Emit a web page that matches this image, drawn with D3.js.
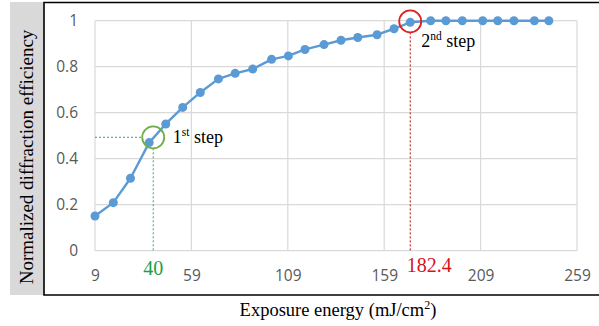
<!DOCTYPE html>
<html>
<head>
<meta charset="utf-8">
<script src="https://cdn.jsdelivr.net/npm/d3@7"></script>
<style>
  html, body { margin: 0; padding: 0; background: #fff; }
  svg { display: block; }
</style>
</head>
<body>
<svg id="chart" width="599" height="326"></svg>
<script>
// ---- data ----
const exposure = [9.0, 18.5, 27.4, 37.1, 45.7, 54.5, 63.6, 73.0, 81.7, 90.8, 100.6, 109.3, 117.9,
  127.8, 136.6, 145.3, 155.3, 164.1, 172.5, 183.1, 191.0, 199.5, 210.1, 217.9, 226.3, 236.9, 244.4];
const efficiency = [0.151, 0.209, 0.315, 0.470, 0.551, 0.623, 0.688, 0.747, 0.771, 0.790, 0.832, 0.847, 0.875,
  0.896, 0.915, 0.927, 0.939, 0.965, 0.993, 1.0, 1.0, 1.0, 1.0, 1.0, 1.0, 1.0, 1.0];
const xTicks = [9, 59, 109, 159, 209, 259];
const yTicks = [0, 0.2, 0.4, 0.6, 0.8, 1];
const step1 = { x: 39.2, y: 0.493, label: "40", labelX: 40 };
const step2 = { x: 172.5, y: 0.997, label: "182.4", labelX: 182.4 };

const svg = d3.select("#chart");
const L = 95, R = 577, T = 20.7, B = 250.7;
const x = d3.scaleLinear().domain([9, 259]).range([L, R]);
const y = d3.scaleLinear().domain([0, 1]).range([B, T]);

// gray band for y title
svg.append("rect").attr("x", 10).attr("y", 2).attr("width", 34).attr("height", 293).attr("fill", "#d9d9d9");

// frame
const frame = svg.append("g").attr("stroke", "#000").attr("stroke-width", 1.6).attr("fill", "none");
frame.append("path").attr("d", "M599,2.5 H44 V295 H599");

// gridlines
const grid = svg.append("g").attr("stroke", "#d9d9d9").attr("stroke-width", 1.2);
grid.selectAll(".hg").data(yTicks).join("line")
  .attr("x1", L).attr("x2", R).attr("y1", d => y(d)).attr("y2", d => y(d));
grid.selectAll(".vg").data(xTicks).join("line")
  .attr("x1", d => x(d)).attr("x2", d => x(d)).attr("y1", T).attr("y2", B);

// axes (labels only)
const xAxis = svg.append("g").attr("transform", `translate(0,${B})`)
  .call(d3.axisBottom(x).tickValues(xTicks).tickSize(0).tickPadding(19).tickFormat(d3.format("d")));
const yAxis = svg.append("g").attr("transform", `translate(${L},0)`)
  .call(d3.axisLeft(y).tickValues(yTicks).tickSize(0).tickPadding(17).tickFormat(d => d === 0 ? "0" : d === 1 ? "1" : d3.format(".1f")(d)));
[xAxis, yAxis].forEach(a => {
  a.select(".domain").remove();
  a.selectAll("text").attr("fill", "#595959").style("font-family", "'Open Sans', sans-serif").style("font-size", "15.5px");
});

// annotation dashed lines
const r = 11;
svg.append("line").attr("x1", x(9)).attr("x2", x(step1.x) - r).attr("y1", y(step1.y)).attr("y2", y(step1.y))
  .attr("stroke", "#3f9f6a").attr("stroke-width", 1).attr("stroke-dasharray", "2,2");
svg.append("line").attr("x1", x(step1.x)).attr("x2", x(step1.x)).attr("y1", y(step1.y) + r).attr("y2", B)
  .attr("stroke", "#3f9f6a").attr("stroke-width", 1).attr("stroke-dasharray", "2,2");
svg.append("line").attr("x1", x(step2.x)).attr("x2", x(step2.x)).attr("y1", y(step2.y) + r).attr("y2", B)
  .attr("stroke", "#c00000").attr("stroke-width", 1).attr("stroke-dasharray", "2,2");

// data line
const pts = exposure.map((e, i) => [e, efficiency[i]]);
svg.append("path").datum(pts)
  .attr("fill", "none").attr("stroke", "#5b9bd5").attr("stroke-width", 2.4).attr("stroke-linejoin", "round")
  .attr("d", d3.line().x(d => x(d[0])).y(d => y(d[1])));
svg.append("g").selectAll("circle").data(pts).join("circle")
  .attr("cx", d => x(d[0])).attr("cy", d => y(d[1])).attr("r", 4.5).attr("fill", "#5b9bd5");

// circles
svg.append("circle").attr("cx", x(step1.x)).attr("cy", y(step1.y)).attr("r", r)
  .attr("fill", "none").attr("stroke", "#70ad47").attr("stroke-width", 1.8);
svg.append("circle").attr("cx", x(step2.x)).attr("cy", y(step2.y)).attr("r", r)
  .attr("fill", "none").attr("stroke", "#e02020").attr("stroke-width", 1.8);

const serif = "'Liberation Serif', 'Times New Roman', serif";
// step labels
function stepLabel(px, py, num, sup) {
  const t = svg.append("text").attr("x", px).attr("y", py)
    .style("font-family", serif).style("font-size", "18px").attr("fill", "#000");
  t.append("tspan").text(num);
  t.append("tspan").attr("dy", -7).style("font-size", "11.5px").text(sup);
  t.append("tspan").attr("dy", 7).text(" step");
}
stepLabel(x(step1.x) + 19.5, y(step1.y) + 6, "1", "st");
stepLabel(x(step2.x) + 11, y(step2.y) + 26, "2", "nd");

// special x labels
svg.append("text").attr("x", x(step1.labelX) - 1.5).attr("y", 275).attr("text-anchor", "middle")
  .style("font-family", serif).style("font-size", "20px").attr("fill", "#1e9e4a").text(step1.label);
svg.append("text").attr("x", x(step2.labelX)).attr("y", 272).attr("text-anchor", "middle")
  .style("font-family", serif).style("font-size", "20px").attr("fill", "#d7141c").text(step2.label);

// axis titles
const xt = svg.append("text").attr("x", 338).attr("y", 316).attr("text-anchor", "middle")
  .style("font-family", serif).style("font-size", "18.5px").attr("fill", "#000");
xt.append("tspan").text("Exposure energy (mJ/cm");
xt.append("tspan").attr("dy", -7).style("font-size", "12px").text("2");
xt.append("tspan").attr("dy", 7).text(")");

svg.append("text").attr("transform", "translate(33,157) rotate(-90)").attr("text-anchor", "middle")
  .style("font-family", serif).style("font-size", "19px").attr("fill", "#000")
  .text("Normalized diffraction efficiency");
</script>
</body>
</html>
